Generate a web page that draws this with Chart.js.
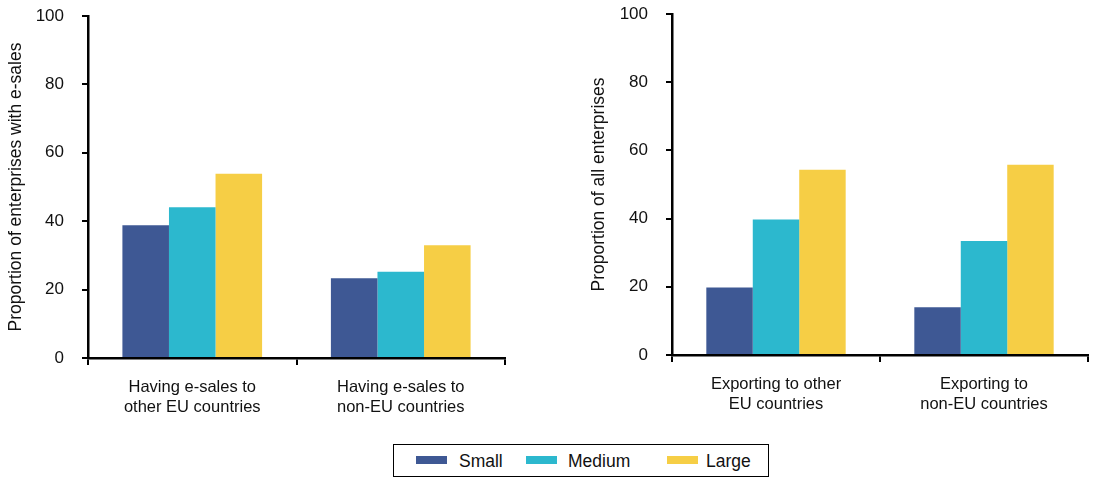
<!DOCTYPE html>
<html>
<head>
<meta charset="utf-8">
<script src="https://cdn.jsdelivr.net/npm/chart.js@4"></script>
<style>
  body { margin: 0; background: #fff; font-family: 'Liberation Sans', Arial, sans-serif; }
  .wrap { position: absolute; }
  #legend {
    position: absolute; left: 393px; top: 444px; width: 376px; height: 33px;
    border: 1px solid #000; box-sizing: border-box;
    font-size: 17.5px; color: #111;
  }
  .item { position: absolute; top: 6px; }
  .sw { position: absolute; top: 11px; width: 31px; height: 8px; }
</style>
</head>
<body>
<div class="wrap" style="left:0;top:0;width:520px;height:430px"><canvas id="left"></canvas></div>
<div class="wrap" style="left:560px;top:0;width:540px;height:430px"><canvas id="right"></canvas></div>
<div id="legend"></div>
<script>
const series = ['Small', 'Medium', 'Large'];
const colors = ['#3e5894', '#2cb8ce', '#f6ce45'];

const leftLabels = [['Having e-sales to', 'other EU countries'], ['Having e-sales to', 'non-EU countries']];
const leftSmall = [38.8, 23.3];
const leftMedium = [44.1, 25.2];
const leftLarge = [53.9, 33.0];

const rightLabels = [['Exporting to other', 'EU countries'], ['Exporting to', 'non-EU countries']];
const rightSmall = [19.8, 14.0];
const rightMedium = [39.7, 33.4];
const rightLarge = [54.3, 55.8];

const yTicks = [0, 20, 40, 60, 80, 100];

Chart.defaults.font.family = "'Liberation Sans', Arial, sans-serif";
Chart.defaults.color = '#111';

function makeChart(id, labels, values, title, opts) {
  const ctx = document.getElementById(id).getContext('2d');
  return new Chart(ctx, {
    type: 'bar',
    data: {
      labels: labels,
      datasets: series.map((s, i) => ({
        label: s,
        data: values[i],
        backgroundColor: colors[i],
        borderWidth: 0,
        categoryPercentage: 0.67,
        barPercentage: 1.0
      }))
    },
    options: {
      responsive: true,
      maintainAspectRatio: false,
      animation: false,
      layout: { padding: { top: opts.top, right: opts.right, left: 0, bottom: 0 } },
      plugins: { legend: { display: false }, tooltip: { enabled: false } },
      scales: {
        x: {
          grid: { display: true, offset: true, drawOnChartArea: false, drawTicks: true, tickLength: 7, color: '#000', lineWidth: 2 },
          border: { display: true, color: '#000', width: 2.5 },
          ticks: { font: { size: 16.5, lineHeight: 1.25 }, padding: 12, maxRotation: 0, autoSkip: false },
          afterFit: s => { s.height = opts.xh; }
        },
        y: {
          min: 0, max: 100,
          afterBuildTicks: s => { s.ticks = yTicks.map(v => ({ value: v })); },
          grid: { display: true, drawOnChartArea: false, drawTicks: true, tickLength: 6, color: '#000', lineWidth: 2 },
          border: { display: true, color: '#000', width: 2.5 },
          ticks: { font: { size: 17 }, padding: 18 },
          title: { display: true, text: title, font: { size: 17.5 }, padding: { top: opts.tp, bottom: 0 } },
          afterFit: s => { s.width = opts.yw; s.paddingTop = 0; s.paddingBottom = 0; }
        }
      }
    }
  });
}

makeChart('left', leftLabels, [leftSmall, leftMedium, leftLarge],
  'Proportion of enterprises with e-sales', { top: 16, right: 15, yw: 88, xh: 72, tp: 6 });
makeChart('right', rightLabels, [rightSmall, rightMedium, rightLarge],
  'Proportion of all enterprises', { top: 14, right: 12, yw: 112, xh: 75, tp: 29 });

const legend = document.getElementById('legend');
const swX = [22, 132, 273];
const txX = [65, 174, 312];
series.forEach((s, i) => {
  const sw = document.createElement('div');
  sw.className = 'sw';
  sw.style.left = swX[i] + 'px';
  sw.style.background = colors[i];
  legend.appendChild(sw);
  const t = document.createElement('div');
  t.className = 'item';
  t.style.left = txX[i] + 'px';
  t.textContent = s;
  legend.appendChild(t);
});
</script>
</body>
</html>
